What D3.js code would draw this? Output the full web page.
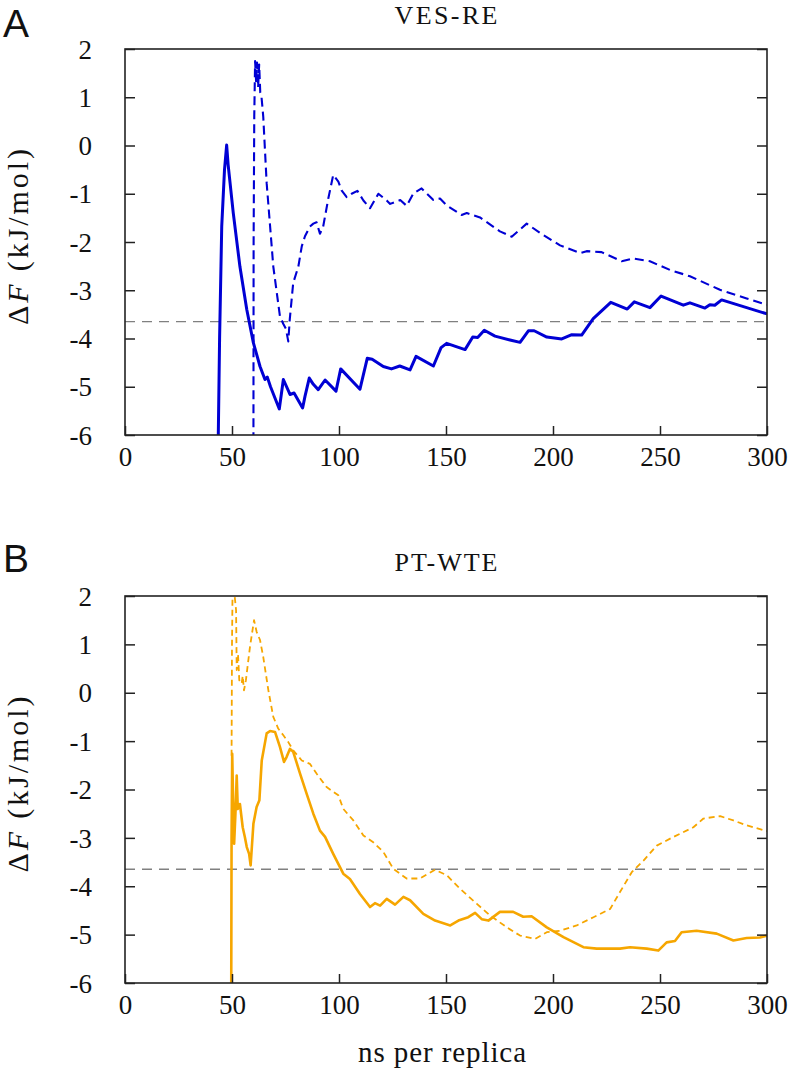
<!DOCTYPE html>
<html>
<head>
<meta charset="utf-8">
<script src="https://cdn.jsdelivr.net/npm/d3@7"></script>
<style>
  html, body { margin: 0; padding: 0; background: #fff; }
  svg { display: block; }
  svg text { font-family: 'Liberation Serif', 'DejaVu Serif', serif; }
  svg text.sans { font-family: 'Liberation Sans', 'DejaVu Sans', sans-serif; }
</style>
</head>
<body>
<svg id="chart" width="793" height="1082"></svg>
<script>
// ---------- data ----------
const xTicks = [0, 50, 100, 150, 200, 250, 300];
const yTicks = [2, 1, 0, -1, -2, -3, -4, -5, -6];
const referenceLevel = -3.65;
const panelTitles = ["VES-RE", "PT-WTE"];
const panelLetters = ["A", "B"];
const xLabel = "ns per replica";

// VES-RE, solid
const vesReSolid = [
  [43.3,-7],[44.2,-4],[45.2,-1.68],[46.5,-0.5],[47.5,0.01],[48.2,-0.4],[50.6,-1.40],[53.7,-2.51],
  [56.9,-3.40],[60,-4.09],[63.1,-4.58],[65.4,-4.85],[66.5,-4.80],[68,-5.0],[72.1,-5.46],[74,-4.85],
  [77.1,-5.16],[79,-5.13],[83,-5.44],[84.1,-5.2],[86.1,-4.82],[88,-4.95],[90.3,-5.06],[93.5,-4.86],
  [98.6,-5.09],[100.8,-4.63],[109.8,-5.05],[113.2,-4.41],[115.5,-4.43],[120.7,-4.58],[124.5,-4.63],
  [128.4,-4.57],[133.2,-4.65],[136,-4.37],[144.1,-4.57],[147.7,-4.19],[150.3,-4.10],[158.9,-4.23],
  [162.5,-3.97],[164.8,-3.98],[167.9,-3.83],[172.9,-3.95],[179.9,-4.03],[184.6,-4.08],[188.5,-3.84],
  [191.2,-3.84],[197.1,-3.97],[204.1,-4.01],[208.8,-3.92],[213.4,-3.93],[218.8,-3.59],[227,-3.25],
  [234.7,-3.39],[238,-3.24],[245.3,-3.36],[250.5,-3.12],[260.9,-3.31],[264,-3.26],[271,-3.37],
  [273.3,-3.30],[275.6,-3.31],[278.8,-3.20],[300,-3.49]
];
// VES-RE, dashed
const vesReDashed = [
  [60.0,-7],[60.1,-2],[60.4,0.6],[60.8,1.75],[61.3,1.3],[61.7,1.72],[62.2,1.2],[62.7,1.68],[63.2,1.1],
  [63.8,1.0],[64.6,0.6],[66.2,-0.78],[69.3,-2.51],[72.4,-3.54],[74,-3.7],[75.2,-3.8],[76.3,-4.06],
  [77,-3.6],[78.6,-2.85],[81,-2.51],[82.6,-2.09],[84.1,-1.88],[86.4,-1.68],[88,-1.62],[89.5,-1.59],
  [91.1,-1.83],[92.6,-1.68],[95,-1.1],[97.3,-0.61],[99.7,-0.75],[101.2,-0.93],[103.6,-1.07],
  [105.9,-1.0],[108.6,-0.94],[111.4,-1.14],[114.5,-1.30],[118.4,-1.0],[122.3,-1.14],[123.9,-1.21],
  [128.6,-1.13],[131.6,-1.25],[134.8,-0.99],[138.6,-0.89],[144.1,-1.13],[147.2,-1.1],[150.3,-1.24],
  [157.3,-1.44],[159.7,-1.40],[165.9,-1.49],[175.2,-1.78],[180.7,-1.89],[187.7,-1.62],[193.9,-1.81],
  [203.3,-2.07],[212.6,-2.23],[215.7,-2.19],[222.7,-2.21],[232.1,-2.40],[237.5,-2.34],[245.3,-2.40],
  [254.7,-2.58],[264,-2.71],[278,-2.99],[290.5,-3.17],[300,-3.30]
];
// PT-WTE, solid
const ptWteSolid = [
  [49.6,-7],[49.8,-3],[50.1,-1.26],[50.5,-2.2],[51.0,-3.12],[51.6,-2.5],[52.2,-1.71],[52.7,-2.4],
  [53.7,-2.3],[55.0,-2.78],[56,-2.98],[56.9,-3.19],[58,-3.33],[58.7,-3.57],[60,-2.71],[61.5,-2.36],
  [62.8,-2.22],[63.9,-1.40],[66.2,-0.84],[67.8,-0.79],[70.1,-0.81],[72.4,-1.12],[74.3,-1.43],
  [75.5,-1.33],[77.1,-1.16],[78.6,-1.22],[81.8,-1.67],[84.9,-2.09],[88,-2.50],[91.1,-2.85],
  [93.5,-2.98],[97.3,-3.33],[102,-3.74],[105.1,-3.85],[109.8,-4.16],[114.5,-4.43],[116.8,-4.35],
  [119.2,-4.40],[122.3,-4.26],[126.2,-4.38],[130.1,-4.22],[133.2,-4.29],[139.4,-4.57],[144.9,-4.71],
  [152,-4.81],[155.8,-4.71],[160.4,-4.64],[163.6,-4.55],[166.7,-4.68],[169.8,-4.71],[175.2,-4.53],
  [181.4,-4.53],[186.1,-4.63],[190,-4.62],[197.1,-4.85],[204.9,-5.05],[214.2,-5.26],[220.4,-5.29],
  [231.3,-5.29],[236,-5.26],[243.8,-5.29],[249.2,-5.33],[253.1,-5.16],[257,-5.13],[260.1,-4.95],
  [267.1,-4.92],[276.5,-4.98],[284.3,-5.12],[290.5,-5.07],[296.7,-5.06],[300,-5.02]
];
// PT-WTE, dashed
const ptWteDashed = [
  [49.8,-1.3],[50.0,1.0],[50.3,2.3],[51.0,2.1],[51.9,1.71],[52.2,0.47],[52.8,0.8],[53.4,0.26],
  [54.5,0.19],[55.0,0.35],[55.6,0.05],[56.5,0.26],[58.4,0.95],[60.3,1.50],[61.5,1.26],[63.1,1.09],
  [64.6,0.74],[67,0.05],[69.3,-0.50],[71.6,-0.74],[74,-0.88],[76.3,-1.02],[78.6,-1.19],[82.6,-1.40],
  [86.4,-1.47],[89.5,-1.67],[94.2,-1.95],[99.7,-2.12],[102,-2.40],[106.7,-2.64],[111.4,-2.95],
  [116,-3.09],[120.7,-3.29],[125.4,-3.64],[131.6,-3.84],[137.8,-3.84],[144.9,-3.66],[150.3,-3.77],
  [156.5,-4.05],[164.3,-4.36],[170.5,-4.60],[178.4,-4.85],[184.6,-5.02],[191.6,-5.09],[197.1,-4.95],
  [203.3,-4.92],[211.1,-4.81],[218.9,-4.64],[226.7,-4.47],[231.3,-4.12],[236.8,-3.71],[242.3,-3.47],
  [248.5,-3.16],[256.3,-2.98],[265.6,-2.78],[270.3,-2.60],[278.1,-2.55],[284.3,-2.64],[290.5,-2.74],
  [300,-2.86]
];

// ---------- drawing ----------
const svg = d3.select("#chart");
const serif = "'Liberation Serif', 'DejaVu Serif', serif";
const left = 125, right = 767;

const panels = [
  { top: 49, bottom: 435, title: panelTitles[0], letter: panelLetters[0], titleY: 24, letterY: 37,
    color: "#0000d4", solid: vesReSolid, dashed: vesReDashed, solidW: 3, dashedW: 2.1, dash: "9,5" },
  { top: 596, bottom: 983, title: panelTitles[1], letter: panelLetters[1], titleY: 571, letterY: 572,
    color: "#f6a600", solid: ptWteSolid, dashed: ptWteDashed, solidW: 2.6, dashedW: 1.8, dash: "6,4" }
];

panels.forEach((p, i) => {
  const x = d3.scaleLinear().domain([0, 300]).range([left, right]);
  const y = d3.scaleLinear().domain([-6, 2]).range([p.bottom, p.top]);
  const g = svg.append("g");

  const clipId = "clip" + i;
  svg.append("clipPath").attr("id", clipId)
    .append("rect").attr("x", left).attr("y", p.top)
    .attr("width", right - left).attr("height", p.bottom - p.top);

  // reference level
  g.append("line")
    .attr("x1", left).attr("x2", right)
    .attr("y1", y(referenceLevel)).attr("y2", y(referenceLevel))
    .attr("stroke", "#808080").attr("stroke-width", 1.4)
    .attr("stroke-dasharray", "10,7");

  const line = d3.line().x(d => x(d[0])).y(d => y(d[1]));
  const plot = g.append("g").attr("clip-path", `url(#${clipId})`);
  plot.append("path").datum(p.dashed).attr("d", line)
    .attr("fill", "none").attr("stroke", p.color).attr("stroke-width", p.dashedW)
    .attr("stroke-dasharray", p.dash).attr("stroke-linejoin", "round");
  plot.append("path").datum(p.solid).attr("d", line)
    .attr("fill", "none").attr("stroke", p.color).attr("stroke-width", p.solidW)
    .attr("stroke-linejoin", "round");

  // axes (inward ticks)
  const fmt = d => String(d);
  const axB = g.append("g").attr("transform", `translate(0,${p.bottom})`)
    .call(d3.axisBottom(x).tickValues(xTicks).tickSizeInner(-9).tickSizeOuter(0).tickPadding(22).tickFormat(fmt));
  const axL = g.append("g").attr("transform", `translate(${left},0)`)
    .call(d3.axisLeft(y).tickValues(yTicks).tickSizeInner(-10).tickSizeOuter(0).tickPadding(33).tickFormat(fmt));
  const axR = g.append("g").attr("transform", `translate(${right},0)`)
    .call(d3.axisRight(y).tickValues(yTicks).tickSizeInner(-10).tickSizeOuter(0).tickFormat(""));
  [axB, axL, axR].forEach(a => {
    a.attr("font-family", null).attr("font-size", null);
    a.select(".domain").remove();
    a.selectAll(".tick line").attr("stroke", "#222").attr("stroke-width", 1.5);
    a.selectAll("text").style("font-family", serif).style("font-size", "27px").attr("fill", "#111");
  });
  axB.selectAll("text").attr("dy", "0.35em");
  axL.selectAll("text").attr("dy", "0.34em");

  // frame
  g.append("rect").attr("x", left).attr("y", p.top)
    .attr("width", right - left).attr("height", p.bottom - p.top)
    .attr("fill", "none").attr("stroke", "#222").attr("stroke-width", 1.6);

  // title
  g.append("text").attr("x", (left + right) / 2).attr("y", p.titleY)
    .attr("text-anchor", "middle").style("font-size", "26px")
    .attr("textLength", 103).attr("lengthAdjust", "spacing")
    .attr("fill", "#111").text(p.title);

  // panel letter
  g.append("text").attr("class", "sans").attr("x", 3).attr("y", p.letterY)
    .style("font-size", "39px")
    .attr("fill", "#111").text(p.letter);

  // y label
  const cy = (p.top + p.bottom) / 2 - 5;
  const yl = g.append("text").attr("transform", `translate(28,${cy}) rotate(-90)`)
    .attr("text-anchor", "middle").style("font-size", "30px")
    .attr("fill", "#111").attr("textLength", 176).attr("lengthAdjust", "spacing");
  yl.append("tspan").text("Δ");
  yl.append("tspan").attr("font-style", "italic").text("F");
  yl.append("tspan").text(" (kJ/mol)");
});

// x label
svg.append("text").attr("x", 442).attr("y", 1062)
  .attr("text-anchor", "middle").style("font-size", "29px")
  .attr("textLength", 168).attr("lengthAdjust", "spacing")
  .attr("fill", "#111").text(xLabel);
</script>
</body>
</html>
